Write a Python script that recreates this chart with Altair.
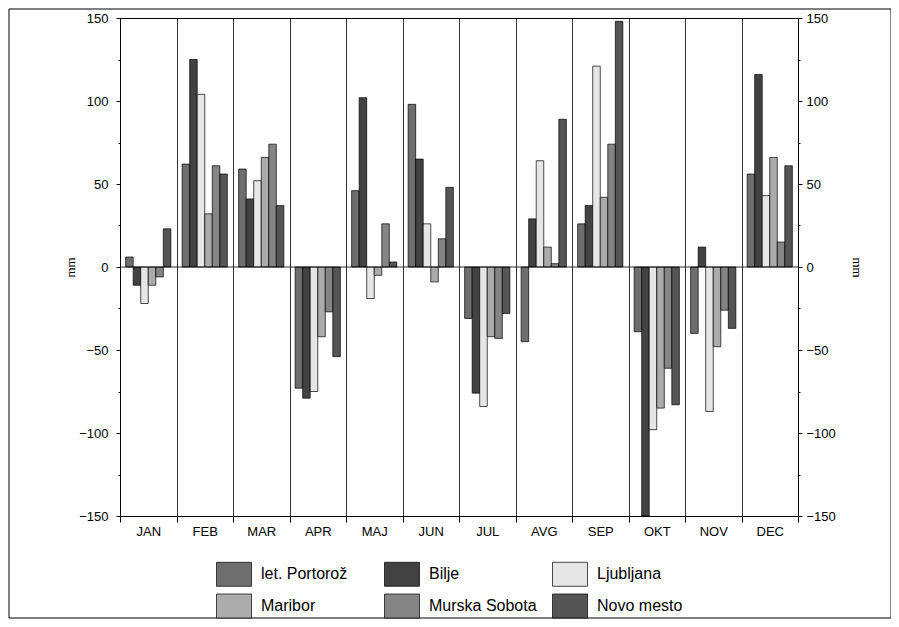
import altair as alt
import pandas as pd

months = ["JAN", "FEB", "MAR", "APR", "MAJ", "JUN", "JUL", "AVG", "SEP", "OKT", "NOV", "DEC"]
stations = ["let. Portorož", "Bilje", "Ljubljana", "Maribor", "Murska Sobota", "Novo mesto"]

portoroz = [6, 62, 59, -73, 46, 98, -31, -45, 26, -39, -40, 56]
bilje = [-11, 125, 41, -79, 102, 65, -76, 29, 37, -150, 12, 116]
ljubljana = [-22, 104, 52, -75, -19, 26, -84, 64, 121, -98, -87, 43]
maribor = [-11, 32, 66, -42, -5, -9, -42, 12, 42, -85, -48, 66]
msobota = [-6, 61, 74, -27, 26, 17, -43, 2, 74, -61, -26, 15]
novo = [23, 56, 37, -54, 3, 48, -28, 89, 148, -83, -37, 61]

series = [portoroz, bilje, ljubljana, maribor, msobota, novo]
colors = ["#6e6e6e", "#424242", "#e6e6e6", "#ababab", "#858585", "#555555"]
yticks = [-150, -100, -50, 0, 50, 100, 150]
yminor = [-125, -75, -25, 25, 75, 125]

rows = []
for s, vals in zip(stations, series):
    for m, v in zip(months, vals):
        rows.append({"month": m, "station": s, "value": v})
df = pd.DataFrame(rows)

FONT = "Liberation Sans"

ydomain = alt.Scale(domain=[-150, 150], nice=False, zero=False)

bars = alt.Chart(df).mark_bar(stroke="black", strokeWidth=0.7, clip=True).encode(
    x=alt.X(
        "month:N", sort=months,
        scale=alt.Scale(paddingInner=0, paddingOuter=0),
        axis=alt.Axis(title=None, tickBand="extent", grid=True, gridColor="black",
                      gridOpacity=1, gridWidth=0.8, domainColor="black", tickColor="black",
                      tickSize=6, labelFont=FONT, labelFontSize=13, labelColor="black",
                      labelPadding=3, labelAngle=0),
    ),
    xOffset=alt.XOffset("station:N", sort=stations,
                        scale=alt.Scale(paddingInner=0, paddingOuter=0.75)),
    y=alt.Y("value:Q", scale=ydomain,
            axis=alt.Axis(values=yticks, title="mm", grid=False, domainColor="black",
                          tickColor="black", tickSize=4, labelFont=FONT, labelFontSize=13,
                          labelColor="black", labelPadding=8, titleFont="Liberation Serif",
                          titleFontSize=13, titleFontWeight="normal", titleColor="black",
                          titleX=-50, titleY=249, titleAngle=-90, titleAlign="center",
                          titleBaseline="middle")),
    fill=alt.Fill("station:N", sort=stations,
                  scale=alt.Scale(domain=stations, range=colors),
                  legend=alt.Legend(title=None, orient="none", legendX=96, legendY=538,
                                    direction="horizontal", columns=3,
                                    symbolType="M-1,-0.686H1V0.686H-1Z",
                                    symbolSize=1225, symbolStrokeColor="black",
                                    symbolStrokeWidth=0.7, symbolOpacity=1,
                                    labelFont=FONT, labelFontSize=16, labelColor="black",
                                    labelOffset=9, columnPadding=14, rowPadding=0,
                                    gridAlign="all", labelLimit=300)),
)

zero = alt.Chart(pd.DataFrame({"z": [0]})).mark_rule(color="black", strokeWidth=0.8).encode(
    y=alt.Y("z:Q", scale=ydomain,
            axis=alt.Axis(orient="right", values=yticks, title="mm", grid=False,
                          domainColor="black", tickColor="black", tickSize=4,
                          labelFont=FONT, labelFontSize=13, labelColor="black",
                          labelPadding=4, titleFont="Liberation Serif", titleFontSize=13,
                          titleFontWeight="normal", titleColor="black", titleX=58,
                          titleY=249, titleAngle=90, titleAlign="center",
                          titleBaseline="middle")),
)


def minor_layer(orient):
    return alt.Chart(pd.DataFrame({"z": [0]})).mark_rule(opacity=0).encode(
        y=alt.Y("z:Q", scale=ydomain,
                axis=alt.Axis(orient=orient, values=yminor, title=None, labels=False,
                              domain=False, grid=False, tickColor="black", tickSize=2)),
    )


frame = alt.Chart(pd.DataFrame({"f": [0]})).mark_rect(
    filled=False, stroke="black", strokeWidth=1, clip=False
).encode(
    x=alt.value(-111), x2=alt.value(771), y=alt.value(-9), y2=alt.value(600)
)

chart = alt.layer(frame, bars, zero, minor_layer("left"), minor_layer("right")).resolve_axis(
    y="independent"
).properties(
    width=678, height=498,
    autosize=alt.AutoSizeParams(type="none"),
    padding={"left": 112, "top": 10, "right": 93, "bottom": 103},
    background="white",
).configure_view(stroke="black", strokeWidth=1)

chart.save("out.html", embed_options={"renderer": "svg", "actions": False})
